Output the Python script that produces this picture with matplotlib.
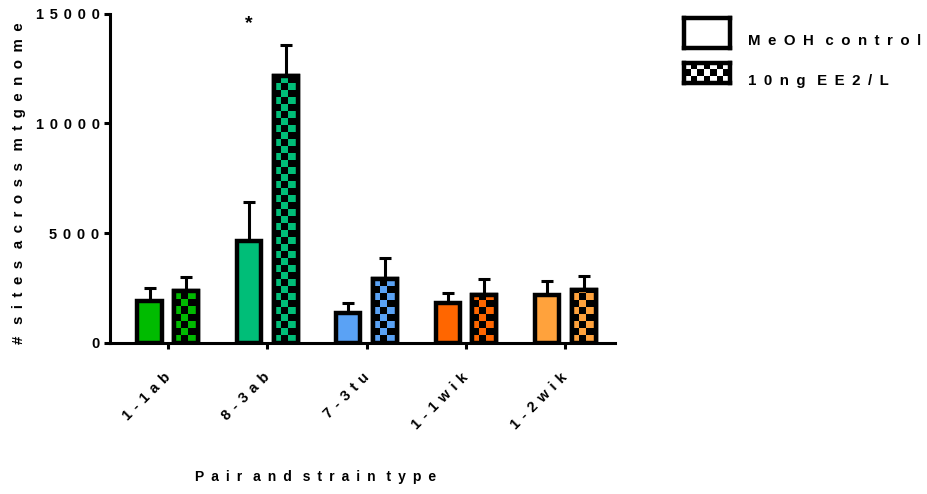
import numpy as np
import matplotlib
matplotlib.use("Agg")
import matplotlib.pyplot as plt
from matplotlib.colors import ListedColormap
from matplotlib.patches import Rectangle

plt.rcParams['font.family'] = ['Liberation Sans', 'DejaVu Sans']
plt.rcParams['font.weight'] = 'bold'

# data
strains = ["1-1ab", "8-3ab", "7-3tu", "1-1wik", "1-2wik"]
meoh_mean = [1900, 4620, 1350, 1800, 2170]
meoh_err = [600, 1800, 440, 470, 620]
ee2_mean = [2340, 12170, 2900, 2190, 2400]
ee2_err = [660, 1410, 940, 700, 640]
colors = ["#00bb00", "#00be78", "#5aa2f5", "#ff6600", "#ffa23c"]
yticks = [0, 5000, 10000, 15000]
legend_labels = ["MeOH control", "10ng EE2/L"]

EN = "\u2002"


def spaced(s, gap=EN):
    # fake the wide letter spacing of the original
    return (gap + " ").join(gap.join(w) for w in s.split(" "))


W, H = 928, 494
fig = plt.figure(figsize=(W / 100, H / 100), dpi=100)
ax = fig.add_axes([110 / W, 151.5 / H, 505 / W, 328.5 / H])

x = np.arange(len(strains))
off = 0.185
bw = 0.243
lw = 3.2

ax.set_xlim(-0.583, 4.5)
ax.set_ylim(0, 15000)

# error bars (upper only)
for xs, m, e in [(x - off, meoh_mean, meoh_err), (x + off, ee2_mean, ee2_err)]:
    ax.errorbar(xs, m, yerr=[np.zeros(len(m)), e], fmt='none', ecolor='black',
                elinewidth=2.2, capsize=4.5, capthick=2.2, zorder=1)

ax.bar(x - off, meoh_mean, width=bw, color=colors, edgecolor='black',
       linewidth=lw, zorder=2)
ee2_bars = ax.bar(x + off, ee2_mean, width=bw, color=colors, edgecolor='black',
                  linewidth=lw, zorder=2)

# checkerboard fill for the EE2 bars
cell = 7.0  # pixels
px_x = ax.transData.transform((1, 0))[0] - ax.transData.transform((0, 0))[0]
px_y = ax.transData.transform((0, 1000))[1] - ax.transData.transform((0, 0))[1]
cx = cell / px_x
cy = cell / px_y * 1000
for bar, c in zip(ee2_bars, colors):
    x0 = bar.get_x()
    ncol = int(np.ceil(bar.get_width() / cx)) + 1
    nrow = int(np.ceil(bar.get_height() / cy)) + 1
    board = (np.add.outer(np.arange(nrow), np.arange(ncol)) % 2)[::-1]
    im = ax.imshow(board, cmap=ListedColormap([c, "black"]), interpolation='nearest',
                   extent=(x0, x0 + ncol * cx, 0, nrow * cy), aspect='auto', zorder=2.1)
    im.set_clip_path(bar)
    ax.add_patch(Rectangle((x0, 0), bar.get_width(), bar.get_height(), fill=False,
                           edgecolor='black', linewidth=lw, zorder=2.2))

ax.set_xlim(-0.583, 4.5)
ax.set_ylim(0, 15000)

ax.text(1 - off, 14550, "*", ha='center', va='center', fontsize=14)

for s in ['top', 'right']:
    ax.spines[s].set_visible(False)
for s in ['left', 'bottom']:
    ax.spines[s].set_linewidth(2.2)

ax.set_yticks(yticks)
ax.set_yticklabels([spaced(str(v), "\u2009\u2009") for v in yticks],
                   fontsize=10.5, fontweight='bold')
ax.set_xticks(x)
ax.set_xticklabels([spaced(s, "\u2009\u2009") for s in strains], fontsize=10.5,
                   fontweight='bold', rotation=45, ha='right', va='center',
                   rotation_mode='anchor')
ax.tick_params(axis='both', direction='out', length=4.5, width=2.2)
ax.tick_params(axis='y', pad=3)
ax.tick_params(axis='x', pad=19)

fig.text(19 / W, 1 - 183 / H, spaced("# sites across mtgenome"), rotation=90,
         ha='center', va='center', fontsize=10.8, fontweight='bold')
fig.text(316 / W, 1 - 477 / H, spaced("Pair and strain type"), ha='center', va='center',
         fontsize=10, fontweight='bold')

# legend, drawn by hand
boxes = [(684, 18, 46, 30), (684, 63, 46, 20)]
for i, ((bx, by, bwid, bh), lab) in enumerate(zip(boxes, legend_labels)):
    lax = fig.add_axes([bx / W, 1 - (by + bh) / H, bwid / W, bh / H])
    lax.set_xticks([])
    lax.set_yticks([])
    for sp in lax.spines.values():
        sp.set_linewidth(3.2)
    if i == 1:
        board = np.add.outer(np.arange(3), np.arange(7)) % 2
        lax.imshow(board, cmap=ListedColormap(["white", "black"]),
                   interpolation='nearest', aspect='auto')
    fig.text(748 / W, 1 - (by + bh / 2 + 8) / H, spaced(lab), ha='left', va='center',
             fontsize=10.8, fontweight='bold')

fig.savefig("out.png", dpi=100)
